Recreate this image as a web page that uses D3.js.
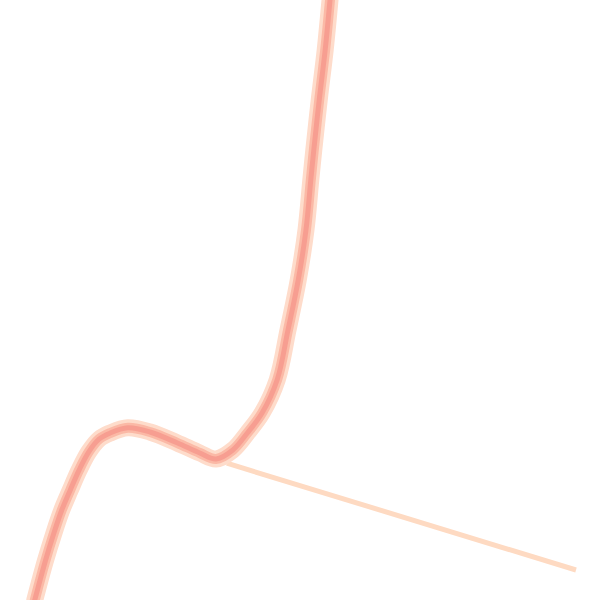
<!DOCTYPE html>
<html><head><meta charset="utf-8">
<script src="https://cdn.jsdelivr.net/npm/d3@7"></script>
<style>html,body{margin:0;padding:0;background:#fff;}svg{display:block;}</style>
</head><body>
<script>
// Main curve (data units: x 0..100, y 0..100)
const curveX = [5.8, 7.5, 9.0, 10.3, 11.7, 13.2, 14.8, 16.5, 18.3, 21.3, 25.0, 29.5, 33.3, 36.0, 38.8, 41.2, 43.7, 46.2, 48.0, 49.7, 51.0, 51.8, 52.3, 53.2, 54.2, 55.0];
const curveY = [0.0, 6.3, 11.2, 15.0, 18.3, 21.7, 24.7, 26.8, 27.8, 28.7, 28.0, 26.2, 24.5, 23.5, 25.0, 27.8, 31.2, 36.7, 45.0, 53.3, 61.7, 70.0, 75.0, 83.3, 91.7, 100.0];
// Thin trailing line
const tailX = [37.8, 96.0];
const tailY = [22.8, 5.0];

const W = 600, H = 600;
const svg = d3.select("body").append("svg").attr("width", W).attr("height", H);
const x = d3.scaleLinear().domain([0, 100]).range([0, W]);
const y = d3.scaleLinear().domain([0, 100]).range([H, 0]);

const pts = curveX.map((v, i) => [v, curveY[i]]);
const tail = tailX.map((v, i) => [v, tailY[i]]);
const line = d3.line().x(d => x(d[0])).y(d => y(d[1])).curve(d3.curveCatmullRom.alpha(0.5));

svg.append("path").datum(tail).attr("d", d3.line().x(d => x(d[0])).y(d => y(d[1])))
  .attr("fill", "none").attr("stroke", "#fedac2").attr("stroke-width", 5);
svg.append("path").datum(pts).attr("d", line)
  .attr("fill", "none").attr("stroke", "#fedccb").attr("stroke-width", 17).attr("stroke-linecap", "round");
svg.append("path").datum(pts).attr("d", line)
  .attr("fill", "none").attr("stroke", "#fbb9a6").attr("stroke-width", 10).attr("stroke-linecap", "round");
svg.append("path").datum(pts).attr("d", line)
  .attr("fill", "none").attr("stroke", "#f79e91").attr("stroke-width", 5).attr("stroke-linecap", "round");
</script>
</body></html>
